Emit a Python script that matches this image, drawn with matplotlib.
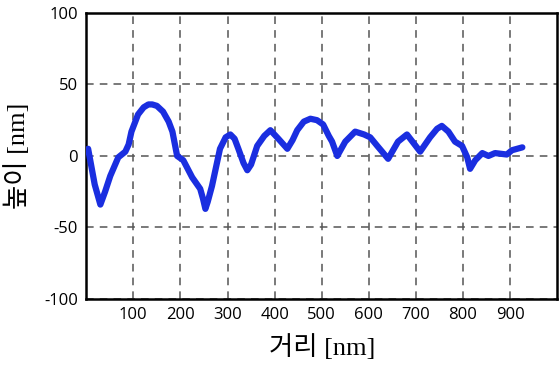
import matplotlib
matplotlib.use("Agg")
import matplotlib.pyplot as plt

plt.rcParams["axes.unicode_minus"] = False

# profile (distance nm, height nm)
dist = [4, 18, 30, 40, 51, 68, 83, 90, 96, 110, 122, 132, 140, 150, 163,
        175, 183, 193, 206, 225, 242, 248, 253, 258, 267, 284, 296, 306,
        315, 323, 334, 342, 350, 363, 378, 391, 408, 427, 438, 448, 462,
        476, 490, 503, 515, 522, 533, 550, 571, 590, 603, 618, 641, 662,
        681, 695, 709, 730, 745, 755, 769, 783, 798, 809, 815, 826, 841,
        854, 868, 893, 904, 926]
height = [5, -20, -34, -25, -14, -1, 3, 8, 17, 29, 34, 36, 36, 35, 31,
          24, 17, 0, -3, -15, -23, -30, -37, -32, -21, 5, 13, 15,
          12, 5, -5, -10, -6, 7, 14, 18, 12, 5, 11, 18, 24,
          26, 25, 22, 14, 10, 0, 10, 17, 15, 13, 7, -2, 10,
          15, 9, 3, 13, 19, 21, 17, 10, 7, -1, -9, -3, 2,
          0, 2, 1, 4, 6]

x_ticks = [100, 200, 300, 400, 500, 600, 700, 800, 900]
y_ticks = [-100, -50, 0, 50, 100]

fig = plt.figure(figsize=(5.6, 3.68), dpi=100)
ax = fig.add_axes([0.154, 0.1875, 0.841, 0.7775])

ax.plot(dist, height, color="#1a2ee0", lw=4.5, solid_joinstyle="round",
        solid_capstyle="round", zorder=3)

ax.set_xlim(0, 1000)
ax.set_ylim(-100, 100)
ax.set_xticks(x_ticks)
ax.set_yticks(y_ticks)
ax.tick_params(length=0, labelsize=12, pad=6)
for lab in ax.get_xticklabels() + ax.get_yticklabels():
    lab.set_family(["Open Sans", "DejaVu Sans"])

ax.grid(True, color="#555555", ls=(0, (5, 4)), lw=1.1)
for s in ax.spines.values():
    s.set_linewidth(1.8)
    s.set_color("black")

lab_font = ["Liberation Serif", "Noto Sans CJK KR"]
ax.set_xlabel("거리 [nm]", family=lab_font, fontsize=19, labelpad=8)
ax.set_ylabel("높이 [nm]", family=lab_font, fontsize=19, labelpad=10)

fig.savefig("out.png", dpi=100)
